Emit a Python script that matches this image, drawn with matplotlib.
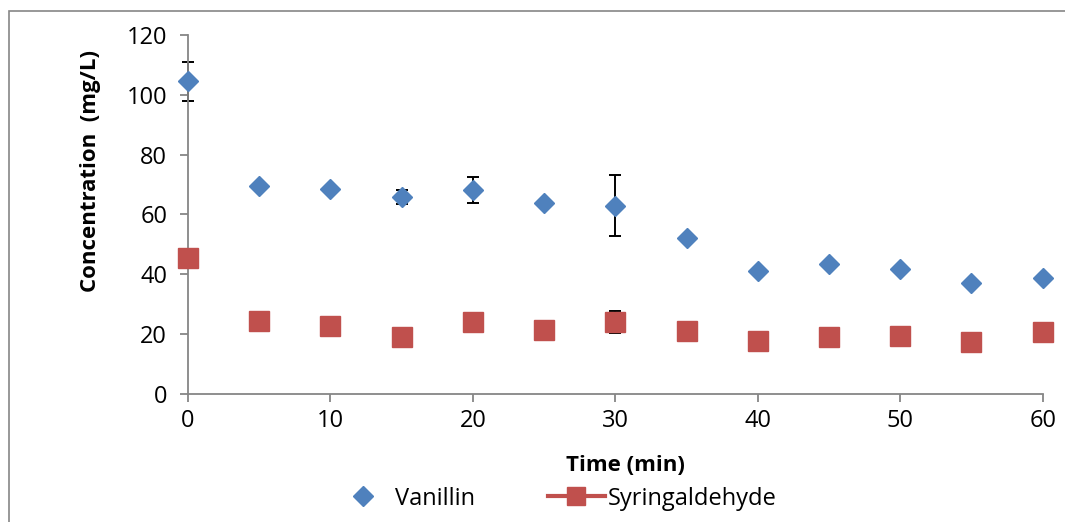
import matplotlib
matplotlib.use("Agg")
import matplotlib.pyplot as plt
from matplotlib.lines import Line2D
from matplotlib.patches import Rectangle

plt.rcParams['font.family'] = ['Open Sans', 'DejaVu Sans']

# Tiempo de muestreo (min) y concentraciones medidas (mg/L)
time_min = [0, 5, 10, 15, 20, 25, 30, 35, 40, 45, 50, 55, 60]
vanillin = [104.5, 69.5, 68.6, 65.9, 68.2, 63.9, 63.0, 52.2, 41.1, 43.4, 41.8, 37.0, 38.7]
vanillin_err = [6.5, 0.8, 0.8, 2.3, 4.3, 1.0, 10.2, 0.8, 1.0, 0.8, 0.8, 0.8, 0.8]
syringaldehyde = [45.5, 24.4, 22.7, 19.1, 24.1, 21.5, 24.2, 21.0, 17.7, 19.1, 19.4, 17.4, 20.6]
syringaldehyde_err = [1.0, 1.0, 1.0, 1.0, 1.0, 1.0, 3.7, 1.0, 1.0, 1.0, 1.0, 1.0, 1.0]

blue = '#4F81BD'
red = '#C0504D'
gray = '#868686'

fig = plt.figure(figsize=(10.65, 5.22), dpi=100)
ax = fig.add_axes([0.1765, 0.2452, 0.8025, 0.6878])

# Marco del área del gráfico
fig.patches.append(Rectangle((9 / 1065, -0.2), 1.2, 1.2 - 11 / 522,
                             transform=fig.transFigure, fill=False,
                             edgecolor=gray, linewidth=1.2))

ax.errorbar(time_min, vanillin, yerr=vanillin_err, fmt='none', ecolor='black',
            elinewidth=1.4, capsize=4.5, capthick=1.4, zorder=2, clip_on=False)
ax.errorbar(time_min, syringaldehyde, yerr=syringaldehyde_err, fmt='none', ecolor='black',
            elinewidth=1.4, capsize=4.5, capthick=1.4, zorder=2, clip_on=False)
ax.plot(time_min, vanillin, linestyle='none', marker='D', markersize=10.5,
        color=blue, markeredgecolor=blue, zorder=3, clip_on=False)
ax.plot(time_min, syringaldehyde, linestyle='none', marker='s', markersize=14,
        color=red, markeredgecolor=red, zorder=3, clip_on=False)

ax.set_xlim(0, 60)
ax.set_ylim(0, 120)
ax.set_xticks(range(0, 61, 10))
ax.set_yticks(range(0, 121, 20))

for side in ['top', 'right']:
    ax.spines[side].set_visible(False)
for side in ['left', 'bottom']:
    ax.spines[side].set_color(gray)
    ax.spines[side].set_linewidth(1.3)
ax.tick_params(axis='both', direction='out', length=6, width=1.3, color=gray,
               labelsize=17, labelcolor='black')
ax.tick_params(axis='y', pad=9)
ax.tick_params(axis='x', pad=5)

ax.set_xlabel('Time (min)', fontsize=16, fontweight='bold', va='center')
ax.xaxis.set_label_coords(0.512, -0.198)
ax.set_ylabel('Concentration  (mg/L)', fontsize=16, fontweight='bold', va='center')
ax.yaxis.set_label_coords(-0.1146, 0.62)

handles = [
    Line2D([], [], linestyle='none', marker='D', markersize=10, color=blue),
    Line2D([], [], linestyle='-', linewidth=3, marker='s', markersize=13, color=red),
]
fig.legend(handles, ['Vanillin', 'Syringaldehyde'], loc='center',
           bbox_to_anchor=(0.522, 0.045), ncol=2, frameon=False, fontsize=17,
           columnspacing=3.1, handlelength=2.4, handletextpad=0.15)

fig.savefig('out.png', dpi=100)
